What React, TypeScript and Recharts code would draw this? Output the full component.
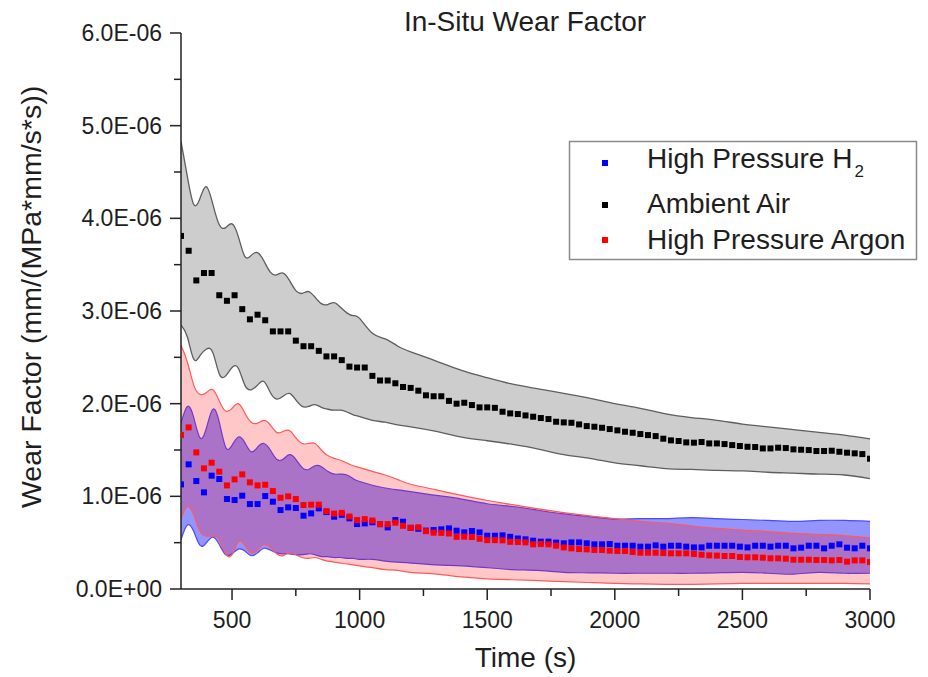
import React from 'react';
import { ComposedChart, Area, Scatter, XAxis, YAxis, Legend, Label } from 'recharts';

// ---- Measured points (values in units of 1E-06 mm/(MPa*mm/s*s)) ----
const pointTimes = [
  300, 330, 360, 390, 420, 450, 480, 510, 540, 570, 600, 630, 660, 690, 720, 750, 780, 810, 840, 870,
  900, 930, 960, 990, 1020, 1050, 1080, 1110, 1140, 1170, 1200, 1230, 1260, 1290, 1320, 1350, 1380, 1410, 1440, 1470,
  1500, 1530, 1560, 1590, 1620, 1650, 1680, 1710, 1740, 1770, 1800, 1830, 1860, 1890, 1920, 1950, 1980, 2010, 2040, 2070,
  2100, 2130, 2160, 2190, 2220, 2250, 2280, 2310, 2340, 2370, 2400, 2430, 2460, 2490, 2520, 2550, 2580, 2610, 2640, 2670,
  2700, 2730, 2760, 2790, 2820, 2850, 2880, 2910, 2940, 2970, 3000,
];

const h2Values = [
  1.129, 1.345, 1.165, 1.043, 1.223, 1.187, 0.971, 0.960, 1.007, 0.917,
  0.917, 1.003, 0.942, 0.852, 0.881, 0.874, 0.791, 0.816, 0.870, 0.830,
  0.780, 0.800, 0.762, 0.701, 0.708, 0.720, 0.700, 0.665, 0.744, 0.726,
  0.660, 0.650, 0.630, 0.636, 0.644, 0.654, 0.629, 0.611, 0.626, 0.611,
  0.575, 0.575, 0.579, 0.563, 0.545, 0.536, 0.521, 0.511, 0.511, 0.500,
  0.493, 0.503, 0.503, 0.493, 0.482, 0.482, 0.485, 0.467, 0.467, 0.467,
  0.457, 0.457, 0.471, 0.457, 0.467, 0.467, 0.457, 0.449, 0.449, 0.467,
  0.467, 0.467, 0.467, 0.457, 0.449, 0.467, 0.467, 0.457, 0.467, 0.467,
  0.439, 0.446, 0.467, 0.467, 0.439, 0.467, 0.482, 0.446, 0.439, 0.467,
  0.439,
];

const airValues = [
  3.81, 3.65, 3.33, 3.41, 3.41, 3.17, 3.11, 3.17, 3.02, 2.91,
  2.96, 2.90, 2.78, 2.78, 2.78, 2.68, 2.62, 2.62, 2.57, 2.51,
  2.51, 2.47, 2.40, 2.39, 2.39, 2.30, 2.25, 2.25, 2.22, 2.18,
  2.17, 2.14, 2.09, 2.08, 2.08, 2.03, 2.00, 2.01, 1.985, 1.96,
  1.96, 1.955, 1.913, 1.895, 1.888, 1.873, 1.859, 1.845, 1.834, 1.805,
  1.798, 1.794, 1.776, 1.758, 1.751, 1.740, 1.726, 1.712, 1.697, 1.686,
  1.672, 1.661, 1.650, 1.622, 1.604, 1.597, 1.582, 1.579, 1.586, 1.571,
  1.571, 1.564, 1.553, 1.543, 1.535, 1.532, 1.517, 1.517, 1.525, 1.521,
  1.507, 1.503, 1.499, 1.489, 1.489, 1.492, 1.481, 1.471, 1.464, 1.456,
  1.406,
];

const argonValues = [
  1.661, 1.744, 1.474, 1.302, 1.363, 1.266, 1.118, 1.183, 1.237, 1.151,
  1.118, 1.125, 1.057, 0.985, 1.000, 0.971, 0.906, 0.910, 0.910, 0.841,
  0.814, 0.822, 0.782, 0.744, 0.754, 0.739, 0.700, 0.700, 0.716, 0.682,
  0.660, 0.666, 0.624, 0.608, 0.606, 0.599, 0.563, 0.565, 0.561, 0.542,
  0.527, 0.527, 0.525, 0.509, 0.507, 0.503, 0.482, 0.485, 0.482, 0.467,
  0.449, 0.439, 0.431, 0.428, 0.421, 0.421, 0.414, 0.410, 0.410, 0.399,
  0.392, 0.392, 0.392, 0.388, 0.385, 0.385, 0.385, 0.378, 0.370, 0.363,
  0.360, 0.356, 0.356, 0.345, 0.342, 0.342, 0.338, 0.331, 0.331, 0.327,
  0.316, 0.316, 0.316, 0.313, 0.313, 0.309, 0.313, 0.295, 0.309, 0.309,
  0.291,
];

// ---- Confidence bands (same units) ----
const bandTimes = [
  300, 325, 350, 375, 400, 425, 450, 475, 500, 525, 550, 575, 600, 625, 650, 675, 700, 725, 750, 775,
  800, 825, 850, 875, 900, 925, 950, 975, 1000, 1050, 1100, 1150, 1200, 1300, 1400, 1500, 1600, 1700, 1800, 1900,
  2000, 2100, 2200, 2300, 2400, 2500, 2600, 2700, 2800, 2900, 3000,
];

const airHigh = [
  4.83, 4.45, 4.15, 4.22, 4.34, 4.15, 3.93, 3.90, 3.94, 3.80, 3.59, 3.60, 3.63, 3.54, 3.42, 3.39, 3.41, 3.33, 3.22, 3.19,
  3.21, 3.15, 3.08, 3.07, 3.09, 3.04, 2.98, 2.95, 2.92, 2.76, 2.70, 2.62, 2.56, 2.46, 2.36, 2.28, 2.21, 2.16, 2.11, 2.06,
  2.00, 1.95, 1.89, 1.85, 1.82, 1.78, 1.75, 1.72, 1.69, 1.66, 1.62,
];
const airLow = [
  2.85, 2.72, 2.48, 2.52, 2.59, 2.55, 2.32, 2.30, 2.39, 2.38, 2.20, 2.15, 2.20, 2.24, 2.12, 2.05, 2.08, 2.11, 2.04, 1.97,
  1.97, 1.99, 1.96, 1.94, 1.93, 1.93, 1.91, 1.88, 1.86, 1.82, 1.80, 1.77, 1.75, 1.70, 1.64, 1.60, 1.56, 1.51, 1.45, 1.41,
  1.36, 1.33, 1.30, 1.29, 1.28, 1.275, 1.26, 1.25, 1.24, 1.23, 1.19,
];
const argonHigh = [
  2.63, 2.45, 2.20, 2.10, 2.12, 2.15, 2.03, 1.92, 1.95, 2.00, 1.90, 1.80, 1.79, 1.82, 1.77, 1.69, 1.70, 1.71, 1.63, 1.57,
  1.57, 1.57, 1.50, 1.44, 1.41, 1.39, 1.36, 1.33, 1.31, 1.27, 1.23, 1.18, 1.13, 1.07, 1.01, 0.955, 0.91, 0.865, 0.825, 0.79,
  0.76, 0.73, 0.71, 0.68, 0.655, 0.635, 0.62, 0.60, 0.59, 0.575, 0.55,
];
const argonLow = [
  0.76, 0.89, 0.80, 0.62, 0.57, 0.57, 0.53, 0.38, 0.37, 0.51, 0.47, 0.39, 0.42, 0.48, 0.45, 0.38, 0.36, 0.39, 0.37, 0.34,
  0.33, 0.34, 0.32, 0.30, 0.29, 0.28, 0.27, 0.26, 0.25, 0.23, 0.21, 0.20, 0.18, 0.16, 0.13, 0.11, 0.10, 0.09, 0.08, 0.07,
  0.06, 0.055, 0.05, 0.05, 0.055, 0.06, 0.06, 0.06, 0.06, 0.06, 0.055,
];
const h2High = [
  1.79, 1.97, 1.85, 1.63, 1.74, 1.94, 1.80, 1.53, 1.55, 1.64, 1.58, 1.48, 1.53, 1.57, 1.50, 1.40, 1.40, 1.45, 1.40, 1.31,
  1.29, 1.33, 1.32, 1.27, 1.24, 1.24, 1.23, 1.19, 1.16, 1.12, 1.09, 1.07, 1.05, 1.01, 0.97, 0.92, 0.89, 0.85, 0.81, 0.78,
  0.755, 0.76, 0.76, 0.77, 0.76, 0.75, 0.74, 0.73, 0.74, 0.74, 0.73,
];
const h2Low = [
  0.53, 0.69, 0.62, 0.47, 0.50, 0.56, 0.48, 0.37, 0.38, 0.43, 0.41, 0.36, 0.39, 0.44, 0.42, 0.39, 0.38, 0.38, 0.37, 0.37,
  0.38, 0.37, 0.35, 0.35, 0.34, 0.34, 0.33, 0.33, 0.32, 0.32, 0.30, 0.29, 0.28, 0.26, 0.25, 0.23, 0.21, 0.20, 0.18, 0.175,
  0.17, 0.17, 0.17, 0.17, 0.175, 0.18, 0.17, 0.16, 0.18, 0.17, 0.17,
];

// ---- Axis ticks ----
const xMajorTicks = [500, 1000, 1500, 2000, 2500, 3000];
const xMinorTicks = [750, 1250, 1750, 2250, 2750];
const xTickLabels = ['500', '1000', '1500', '2000', '2500', '3000'];
const yMajorTicks = [0, 1, 2, 3, 4, 5, 6];
const yMinorTicks = [0.5, 1.5, 2.5, 3.5, 4.5, 5.5];
const yTickLabels = ['0.0E+00', '1.0E-06', '2.0E-06', '3.0E-06', '4.0E-06', '5.0E-06', '6.0E-06'];

const seriesNames = ['High Pressure H', 'Ambient Air', 'High Pressure Argon'];
const seriesColors = ['#0000ff', '#000000', '#ff0000'];

const FONT = '"Liberation Sans", Arial, Helvetica, sans-serif';
const INK = '#1e1e1e';
const AXIS = '#222222';

const bandRows = bandTimes.map((t, i) => ({
  t,
  air: [airLow[i], airHigh[i]],
  h2: [h2Low[i], h2High[i]],
  argon: [argonLow[i], argonHigh[i]],
}));

const toPoints = (vals: number[]) => pointTimes.map((t, i) => ({ t, v: vals[i] }));
const h2Points = toPoints(h2Values);
const airPoints = toPoints(airValues);
const argonPoints = toPoints(argonValues);

const xTicks = [...xMajorTicks, ...xMinorTicks].sort((a, b) => a - b);
const yTicks = [...yMajorTicks, ...yMinorTicks].sort((a, b) => a - b);

const XTick = (props: any) => {
  const { x, y, payload } = props;
  const idx = xMajorTicks.indexOf(payload.value);
  const major = idx >= 0;
  return (
    <g>
      <line x1={x} x2={x} y1={y} y2={y + (major ? 11 : 7)} stroke={AXIS} strokeWidth={1.5} />
      {major && (
        <text x={x} y={y + 39} textAnchor="middle" fontSize={23} fontFamily={FONT} fill={INK}>
          {xTickLabels[idx]}
        </text>
      )}
    </g>
  );
};

const YTick = (props: any) => {
  const { x, y, payload } = props;
  const idx = yMajorTicks.indexOf(payload.value);
  const major = idx >= 0;
  return (
    <g>
      <line x1={x - (major ? 11 : 7)} x2={x} y1={y} y2={y} stroke={AXIS} strokeWidth={1.5} />
      {major && (
        <text x={x - 19} y={y + 8} textAnchor="end" fontSize={23} fontFamily={FONT} fill={INK}>
          {yTickLabels[idx]}
        </text>
      )}
    </g>
  );
};

const square = (color: string, size: number) => (p: any) => {
  if (p.cx == null || p.cy == null) return <g />;
  return <rect x={p.cx - size / 2} y={p.cy - size / 2} width={size} height={size} fill={color} />;
};

const LegendBox = () => {
  const rowsY = [22, 64, 99];
  const baseY = [27, 72, 108];
  return (
    <svg width={348} height={119} style={{ display: 'block', overflow: 'visible' }}>
      <rect x={0.5} y={0.5} width={347} height={118} fill="#ffffff" stroke="#8a8a8a" strokeWidth={1.5} />
      {seriesNames.map((name, i) => (
        <g key={name}>
          <rect x={33} y={rowsY[i] - 3} width={6} height={6} fill={seriesColors[i]} />
          <text x={78} y={baseY[i]} fontSize={28} fontFamily={FONT} fill={INK}>
            {name}
            {i === 0 && (
              <tspan fontSize={17} dx={2} dy={9}>
                2
              </tspan>
            )}
          </text>
        </g>
      ))}
    </svg>
  );
};

const XTitle = (props: any) => {
  const vb = props.viewBox || {};
  return (
    <text x={vb.x + vb.width / 2} y={vb.y + 78} textAnchor="middle" fontSize={28} fontFamily={FONT} fill={INK}>
      Time (s)
    </text>
  );
};

const YTitle = (props: any) => {
  const vb = props.viewBox || {};
  const cx = vb.x - 40;
  const cy = vb.y + vb.height / 2 - 14;
  return (
    <text
      x={cx}
      y={cy}
      textAnchor="middle"
      fontSize={28.5}
      fontFamily={FONT}
      fill={INK}
      transform={`rotate(-90, ${cx}, ${cy})`}
    >
      Wear Factor (mm/(MPa*mm/s*s))
    </text>
  );
};

export default function App() {
  return (
    <div style={{ position: 'absolute', left: 0, top: 0, width: 928, height: 677, background: '#fff' }}>
      <ComposedChart
        width={928}
        height={677}
        data={bandRows}
        margin={{ top: 33, right: 58, bottom: 0, left: 81 }}
      >
        <XAxis
          dataKey="t"
          type="number"
          domain={[300, 3000]}
          allowDataOverflow
          ticks={xTicks}
          interval={0}
          tickSize={0}
          tickMargin={0}
          tickLine={false}
          tick={<XTick />}
          axisLine={{ stroke: AXIS, strokeWidth: 1.5 }}
          height={88}
        >
          <Label content={<XTitle />} />
        </XAxis>
        <YAxis
          dataKey="v"
          type="number"
          domain={[0, 6]}
          allowDataOverflow
          ticks={yTicks}
          interval={0}
          tickSize={0}
          tickMargin={0}
          tickLine={false}
          tick={<YTick />}
          axisLine={{ stroke: AXIS, strokeWidth: 1.5 }}
          width={100}
        >
          <Label content={<YTitle />} />
        </YAxis>

        <Area
          type="natural"
          dataKey="air"
          stroke="#5e5e5e"
          strokeWidth={1.3}
          fill="#cdcdcd"
          fillOpacity={1}
          dot={false}
          activeDot={false}
          isAnimationActive={false}
          legendType="none"
        />
        <Area
          type="natural"
          dataKey="h2"
          stroke="#4a4aff"
          strokeWidth={1.2}
          fill="#0000ff"
          fillOpacity={0.42}
          dot={false}
          activeDot={false}
          isAnimationActive={false}
          legendType="none"
        />
        <Area
          type="natural"
          dataKey="argon"
          stroke="#ff5a5a"
          strokeWidth={1.2}
          fill="#ff0000"
          fillOpacity={0.22}
          dot={false}
          activeDot={false}
          isAnimationActive={false}
          legendType="none"
        />

        <Scatter name={seriesNames[0]} data={h2Points} fill={seriesColors[0]} shape={square(seriesColors[0], 6)} isAnimationActive={false} />
        <Scatter name={seriesNames[1]} data={airPoints} fill={seriesColors[1]} shape={square(seriesColors[1], 6)} isAnimationActive={false} />
        <Scatter name={seriesNames[2]} data={argonPoints} fill={seriesColors[2]} shape={square(seriesColors[2], 6)} isAnimationActive={false} />

        <Legend
          layout="vertical"
          align="center"
          verticalAlign="middle"
          content={<LegendBox />}
          wrapperStyle={{ position: 'absolute', left: 569, top: 141, width: 348, height: 119, margin: 0, padding: 0 }}
        />

        <text x={525} y={31} textAnchor="middle" fontSize={28} fontFamily={FONT} fill={INK}>
          In-Situ Wear Factor
        </text>
      </ComposedChart>
    </div>
  );
}
